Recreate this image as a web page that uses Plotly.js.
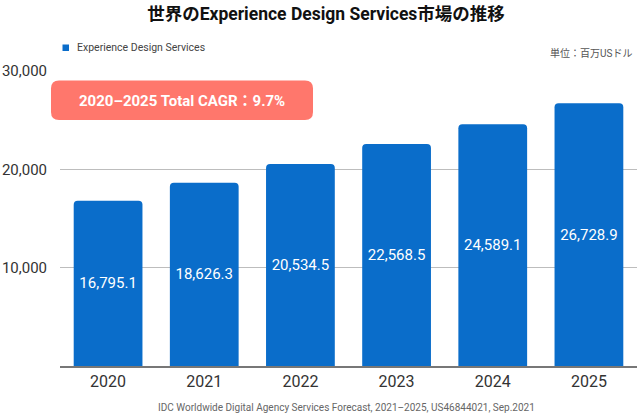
<!DOCTYPE html>
<html><head><meta charset="utf-8">
<script src="https://cdn.plot.ly/plotly-3.0.1.min.js"></script>
<style>html,body{margin:0;padding:0;background:#fff;}#chart{width:638px;height:414px;}</style>
</head><body><div id="chart"></div>
<script>
const years = ['2020','2021','2022','2023','2024','2025'];
const values = [16795.1, 18626.3, 20534.5, 22568.5, 24589.1, 26728.9];
const yTicks = [10000, 20000, 30000];
const yTickLabels = ['10,000', '20,000', '30,000'];
const seriesName = 'Experience Design Services';
const cagrText = '2020–2025 Total CAGR：9.7%';

const W = 638, H = 414;
const mL = 60, mR = 1, mT = 71, mB = 48;
const pw = W - mL - mR, ph = H - mT - mB;
function px2x(px){ return (px - mL) / pw; }
function px2y(py){ return (H - mB - py) / ph; }
function roundRect(x0,y0,x1,y1,r){
  const X=px2x, Y=px2y;
  return 'M'+X(x0+r)+','+Y(y0)+' L'+X(x1-r)+','+Y(y0)+' Q'+X(x1)+','+Y(y0)+' '+X(x1)+','+Y(y0+r)+
    ' L'+X(x1)+','+Y(y1-r)+' Q'+X(x1)+','+Y(y1)+' '+X(x1-r)+','+Y(y1)+
    ' L'+X(x0+r)+','+Y(y1)+' Q'+X(x0)+','+Y(y1)+' '+X(x0)+','+Y(y1-r)+
    ' L'+X(x0)+','+Y(y0+r)+' Q'+X(x0)+','+Y(y0)+' '+X(x0+r)+','+Y(y0)+' Z';
}
const font = 'Roboto, "Noto Sans CJK JP", sans-serif';

const trace = {
  type: 'bar', x: years, y: values, name: seriesName,
  marker: {color: '#0A6DCA', cornerradius: 4},
  text: values.map(v => v.toLocaleString('en-US',{minimumFractionDigits:1, maximumFractionDigits:1})),
  textposition: 'inside', insidetextanchor: 'middle',
  textfont: {color: '#fff', size: 15, family: font},
  hoverinfo: 'none', cliponaxis: false
};

const layout = {
  width: W, height: H,
  margin: {l: mL, r: mR, t: mT, b: mB},
  paper_bgcolor: '#fff', plot_bgcolor: '#fff',
  showlegend: false,
  bargap: 0.285,
  font: {family: font, color: '#333'},
  title: {text: '<b>世界のExperience Design Services市場の推移</b>', x: 326/638, xanchor: 'center', y: 0.966, yanchor: 'middle',
          font: {size: 17.5, color: '#111', family: font}},
  xaxis: {type: 'category', showgrid: false, showline: true, linecolor: '#777', linewidth: 1.5,
          ticks: '', tickfont: {size: 16, color: '#333'}, fixedrange: true},
  yaxis: {range: [0, 30000], tickvals: yTicks, ticktext: yTickLabels, showgrid: true,
          gridcolor: '#bdbdbd', gridwidth: 1.2, zeroline: false, showline: false, ticks: '',
          tickfont: {size: 15, color: '#333'}, ticklabelstandoff: 12, fixedrange: true},
  shapes: [
    {type: 'path', xref: 'paper', yref: 'paper', path: roundRect(51, 80.5, 313, 120, 8),
     fillcolor: '#FF776C', line: {width: 0}, layer: 'above'},
    {type: 'rect', xref: 'paper', yref: 'paper', x0: px2x(62.5), x1: px2x(69), y0: px2y(51), y1: px2y(44.5),
     fillcolor: '#0A6DCA', line: {width: 0}}
  ],
  annotations: [
    {xref: 'paper', yref: 'paper', x: px2x(182), y: px2y(100.5), text: '<b>' + cagrText + '</b>',
     showarrow: false, xanchor: 'center', yanchor: 'middle', font: {size: 15, color: '#fff', family: font}},
    {xref: 'paper', yref: 'paper', x: px2x(75), y: px2y(48), text: seriesName, showarrow: false,
     xanchor: 'left', yanchor: 'middle', font: {size: 10.5, color: '#444', family: font}},
    {xref: 'paper', yref: 'paper', x: px2x(634), y: px2y(53.5), text: '単位：百万USドル', showarrow: false,
     xanchor: 'right', yanchor: 'middle', font: {size: 10, color: '#555', family: font}},
    {xref: 'paper', yref: 'paper', x: px2x(346), y: px2y(407), text: 'IDC Worldwide Digital Agency Services Forecast, 2021–2025, US46844021, Sep.2021',
     showarrow: false, xanchor: 'center', yanchor: 'middle', font: {size: 10, color: '#666', family: font}}
  ]
};

Plotly.newPlot('chart', [trace], layout, {displayModeBar: false, staticPlot: true});
</script></body></html>
